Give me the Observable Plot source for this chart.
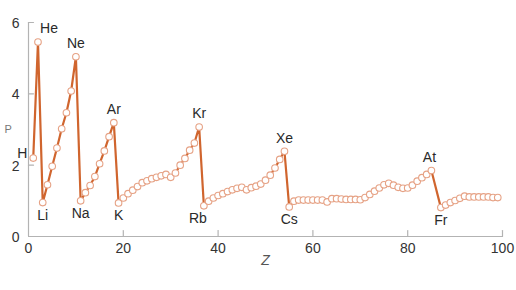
<!DOCTYPE html>
<html><head><meta charset="utf-8">
<script src="https://cdn.jsdelivr.net/npm/d3@7"></script>
<script src="https://cdn.jsdelivr.net/npm/@observablehq/plot@0.6"></script>
<style>body{margin:0;background:#fff;}</style>
</head><body><div id="chart"></div>
<script>
// Atomic number (Rn, Z=86, is absent in the reference)
const zValues = [1,2,3,4,5,6,7,8,9,10,11,12,13,14,15,16,17,18,19,20,
  21,22,23,24,25,26,27,28,29,30,31,32,33,34,35,36,37,38,39,40,
  41,42,43,44,45,46,47,48,49,50,51,52,53,54,55,56,57,58,59,60,
  61,62,63,64,65,66,67,68,69,70,71,72,73,74,75,76,77,78,79,80,
  81,82,83,84,85,87,88,89,90,91,92,93,94,95,96,97,98,99];
const pValues = [2.20,5.45,0.95,1.45,1.97,2.48,3.02,3.47,4.08,5.04,
  1.00,1.23,1.43,1.68,2.04,2.40,2.80,3.19,0.94,1.08,
  1.20,1.30,1.40,1.51,1.56,1.62,1.66,1.70,1.74,1.66,
  1.78,2.00,2.19,2.42,2.62,3.07,0.86,0.99,1.08,1.15,
  1.20,1.26,1.31,1.35,1.38,1.31,1.37,1.41,1.47,1.58,
  1.72,1.92,2.16,2.39,0.83,0.99,1.02,1.02,1.02,1.02,
  1.02,1.02,0.97,1.06,1.06,1.05,1.04,1.04,1.04,1.03,
  1.09,1.18,1.27,1.36,1.45,1.49,1.44,1.38,1.35,1.36,
  1.44,1.55,1.65,1.74,1.85,0.81,0.88,0.95,1.01,1.07,
  1.13,1.11,1.11,1.11,1.11,1.11,1.09,1.09];
const xTicks = [0,20,40,60,80,100];
const yTicks = [0,2,4,6];
const peakNames = ["Ne","Ar","Kr","Xe"];
const peakZ = [10,18,36,54];
const dropNames = ["Li","Na","K","Cs","Fr"];
const dropZ = [3,11,19,55,87];
const heName = "He", heZ = 2;
const atName = "At", atZ = 85;
const rbName = "Rb", rbZ = 37;
const hName = "H", hZ = 1;
const xLabel = "Z";
const yLabel = "P";

const data = zValues.map((z, i) => ({z, p: pValues[i]}));
const lookup = new Map(data.map(d => [d.z, d.p]));
const mk = (names, zs) => names.map((n, i) => ({name: n, z: zs[i], p: lookup.get(zs[i])}));
const peaks = mk(peakNames, peakZ);
const drops = mk(dropNames, dropZ);

const lineColor = "#d0652e";
const dotColor = "#e6a285";
const axisColor = "#b3b3b3";
const textColor = "#2a2a2a";
const tickShape = {draw(context, l) { context.moveTo(0, 0); context.lineTo(0, -l); }};
const lbl = {x: "z", y: "p", text: "name", fill: textColor, fontSize: 14};

const chart = Plot.plot({
  width: 516, height: 290,
  marginLeft: 28, marginRight: 14, marginTop: 22, marginBottom: 54,
  x: {domain: [0, 100]},
  y: {domain: [0, 6]},
  style: {fontFamily: "'Liberation Sans', Arial, sans-serif", fontSize: "14px", background: "#fff", color: textColor},
  marks: [
    Plot.ruleY([0], {stroke: axisColor, strokeWidth: 1.2}),
    Plot.ruleX([0], {stroke: axisColor, strokeWidth: 1.2}),
    Plot.vector(xTicks.slice(1), {x: d => d, y: 0, length: 6, rotate: 0, anchor: "start", shape: tickShape, stroke: axisColor, strokeWidth: 1.2}),
    Plot.vector(yTicks.slice(1), {x: 0, y: d => d, length: 5, rotate: 90, anchor: "start", shape: tickShape, stroke: axisColor, strokeWidth: 1.2}),
    Plot.axisX(xTicks, {tickSize: 0, tickPadding: 7, fill: "#333", fontSize: 14, label: null}),
    Plot.axisY(yTicks, {tickSize: 0, tickPadding: 9, dy: 1, fill: "#333", fontSize: 14, label: null}),
    Plot.line(data, {x: "z", y: "p", stroke: lineColor, strokeWidth: 2.2}),
    Plot.dot(data, {x: "z", y: "p", r: 3.3, fill: "#fff", stroke: dotColor, strokeWidth: 1.1}),
    Plot.text(peaks, {...lbl, dy: -13}),
    Plot.text(mk([heName], [heZ]), {...lbl, dy: -14, dx: 11}),
    Plot.text(mk([atName], [atZ]), {...lbl, dy: -13, dx: -2}),
    Plot.text(drops, {...lbl, dy: 13}),
    Plot.text(mk([rbName], [rbZ]), {...lbl, dy: 13, dx: -6}),
    Plot.text(mk([hName], [hZ]), {...lbl, dx: -11, dy: -5}),
    Plot.text([xLabel], {frameAnchor: "bottom", dy: 28, text: d => d, fontStyle: "italic", fill: "#555", fontSize: 14}),
    Plot.text([yLabel], {frameAnchor: "left", dx: -24, text: d => d, fill: "#777", fontSize: 11})
  ]
});
document.getElementById("chart").appendChild(chart);
</script>
</body></html>
